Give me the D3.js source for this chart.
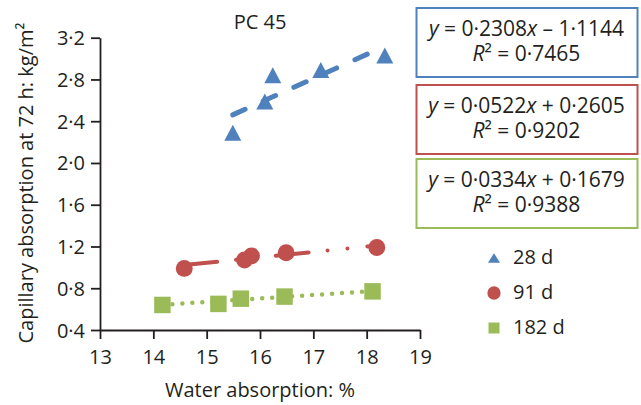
<!DOCTYPE html>
<html>
<head>
<meta charset="utf-8">
<script src="https://cdn.jsdelivr.net/npm/d3@7/dist/d3.min.js"></script>
<style>
  html, body { margin: 0; padding: 0; background: #fff; }
  svg { display: block; }
  text { font-family: "Open Sans", "Noto Sans", sans-serif; fill: #231f20; }
</style>
</head>
<body>
<svg id="chart" width="641" height="405"></svg>
<script>
// Capillary absorption vs water absorption, PC 45 concrete, three curing ages
const seriesNames = ["28 d", "91 d", "182 d"];
const seriesColors = ["#4f81bd", "#c0504d", "#9bbb59"];

const water28 = [15.49, 16.09, 16.24, 17.14, 18.34];
const capillary28 = [2.29, 2.59, 2.84, 2.89, 3.03];
const water91 = [14.58, 15.71, 15.84, 16.49, 18.19];
const capillary91 = [0.99, 1.07, 1.11, 1.14, 1.19];
const water182 = [14.17, 15.22, 15.64, 16.46, 18.11];
const capillary182 = [0.64, 0.65, 0.70, 0.72, 0.77];

// Linear trend lines (y = slope·x + intercept) and their R²
const slopes = [0.2308, 0.0522, 0.0334];
const intercepts = [-1.1144, 0.2605, 0.1679];
const rSquared = [0.7465, 0.9202, 0.9388];

const xTicks = [13, 14, 15, 16, 17, 18, 19];
const yTicks = [0.4, 0.8, 1.2, 1.6, 2.0, 2.4, 2.8, 3.2];

const chartTitle = "PC 45";
const xTitle = "Water absorption: %";
const yTitle = "Capillary absorption at 72 h: kg/m\u00b2";

const waters = [water28, water91, water182];
const capillaries = [capillary28, capillary91, capillary182];

const svg = d3.select("#chart");
const ink = "#231f20";
const fontSize = 20;

const x = d3.scaleLinear().domain([13, 19]).range([100, 420]);
const y = d3.scaleLinear().domain([0.4, 3.2]).range([330, 37.7]);

const dot = s => s.replace(".", "\u00b7");

// Axes
const xAxis = d3.axisBottom(x).tickValues(xTicks).tickSize(9).tickSizeOuter(0)
  .tickFormat(d3.format("d"));
const yAxis = d3.axisLeft(y).tickValues(yTicks).tickSize(9).tickSizeOuter(0).tickPadding(6)
  .tickFormat(d => dot(d3.format(".1f")(d)));

const gx = svg.append("g").attr("transform", `translate(0,${y(0.4)})`).call(xAxis);
const gy = svg.append("g").attr("transform", `translate(${x(13)},0)`).call(yAxis);
[gx, gy].forEach(g => {
  g.select(".domain").attr("stroke", ink).attr("stroke-width", 1.8);
  g.selectAll(".tick line").attr("stroke", ink).attr("stroke-width", 1.8);
  g.selectAll(".tick text").attr("font-size", fontSize).attr("fill", ink)
    .attr("font-family", "'Open Sans', 'Noto Sans', sans-serif");
});
gx.selectAll(".tick text").attr("dy", null).attr("y", 34.3);
gy.selectAll(".tick text").attr("dy", "0.35em");

// Titles
svg.append("text").attr("x", 260).attr("y", 29).attr("text-anchor", "middle")
  .attr("font-size", fontSize).text(chartTitle);
svg.append("text").attr("x", 260).attr("y", 396.5).attr("text-anchor", "middle")
  .attr("font-size", fontSize).text(xTitle);
svg.append("text")
  .attr("transform", "translate(33,183) rotate(-90)")
  .attr("text-anchor", "middle").attr("font-size", fontSize).text(yTitle);

// Marker shapes: triangles centred on their bounding box
const triangle = (w, h) => `M0,${-h / 2}L${w / 2},${h / 2}L${-w / 2},${h / 2}Z`;
const markerPath = [
  triangle(17, 16),
  d3.symbol(d3.symbolCircle, 225)(),
  d3.symbol(d3.symbolSquare, 272)()
];
const legendMarker = [
  triangle(12, 9.5),
  d3.symbol(d3.symbolCircle, 139)(),
  d3.symbol(d3.symbolSquare, 121)()
];

// Data points
seriesNames.forEach((name, i) => {
  const pts = d3.zip(waters[i], capillaries[i]);
  svg.append("g").selectAll("path").data(pts).join("path")
    .attr("transform", d => `translate(${x(d[0])},${y(d[1])})`)
    .attr("d", markerPath[i]).attr("fill", seriesColors[i]);
});

// Trend lines over the range of each series
const trendStyles = [
  { width: 5, dash: "13.5,20" },
  { width: 4, dash: "33,19,0,20,0,20" },
  { width: 4.5, dash: "0,10" }
];
seriesNames.forEach((name, i) => {
  const [x0, x1] = d3.extent(waters[i]);
  const line = [x0, x1].map(v => [v, slopes[i] * v + intercepts[i]]);
  svg.append("path")
    .attr("d", d3.line().x(d => x(d[0])).y(d => y(d[1]))(line))
    .attr("fill", "none").attr("stroke", seriesColors[i])
    .attr("stroke-width", trendStyles[i].width)
    .attr("stroke-linecap", "round")
    .attr("stroke-dasharray", trendStyles[i].dash);
});

// Equation boxes
const boxTops = [8, 85, 159];
const eqSize = 21;
const fmt4 = d3.format(".4f");
seriesNames.forEach((name, i) => {
  const top = boxTops[i];
  svg.append("rect").attr("x", 416.5).attr("y", top).attr("width", 221).attr("height", 69)
    .attr("fill", "#fff").attr("stroke", seriesColors[i]).attr("stroke-width", 2);
  const eq = svg.append("text").attr("x", 526.5).attr("y", top + 27.5).attr("text-anchor", "middle")
    .attr("font-size", eqSize);
  eq.append("tspan").attr("font-style", "italic").text("y");
  eq.append("tspan").text(" = " + dot(fmt4(slopes[i])));
  eq.append("tspan").attr("font-style", "italic").text("x");
  const sign = intercepts[i] < 0 ? " \u2013 " : " + ";
  eq.append("tspan").text(sign + dot(fmt4(Math.abs(intercepts[i]))));
  const r = svg.append("text").attr("x", 526.5).attr("y", top + 53.3).attr("text-anchor", "middle")
    .attr("font-size", eqSize);
  r.append("tspan").attr("font-style", "italic").text("R");
  r.append("tspan").text("\u00b2 = " + dot(fmt4(rSquared[i])));
});

// Legend
const legendY = [258, 293, 328];
seriesNames.forEach((name, i) => {
  svg.append("path").attr("transform", `translate(494,${legendY[i]})`)
    .attr("d", legendMarker[i]).attr("fill", seriesColors[i]);
  svg.append("text").attr("x", 513).attr("y", legendY[i] + 6)
    .attr("font-size", fontSize).text(name);
});
</script>
</body>
</html>
